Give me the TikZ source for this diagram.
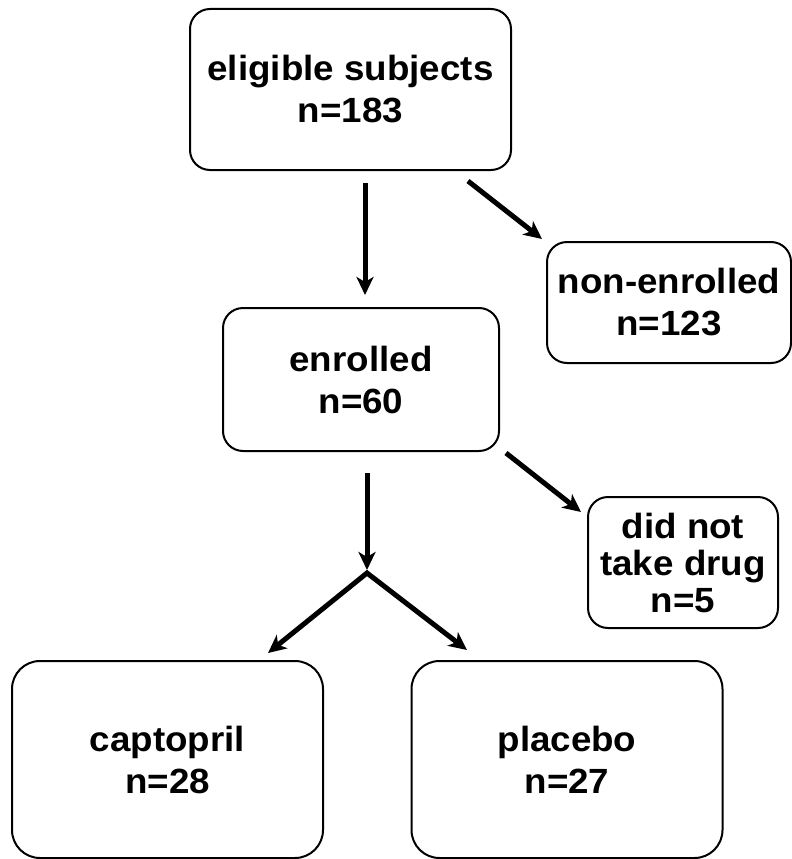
\documentclass[tikz,border=0pt]{standalone}
\usepackage{fontspec}
\setmainfont{Liberation Sans}[FakeStretch=1.05]
\usetikzlibrary{arrows.meta,
	positioning,
	calc}
\tikzstyle{box}=[draw, line width=2pt, rounded corners=20pt, align=center,
		inner sep=0pt, font=\fontsize{35}{42}\selectfont\bfseries]
\tikzstyle{bigbox}=[box, rounded corners=28pt]
\tikzstyle{arr}=[line width=5pt, -{Stealth[length=18pt,width=17pt,inset=5pt]}]

\begin{document}
\begin{tikzpicture}[x=1pt, y=-1pt]
            \useasboundingbox (0,0) rectangle (792,859);
            % boxes
            \node[box, minimum width=321pt, minimum height=161pt] (elig) at (350.5,89.5) {eligible subjects\\n=183};
            \node[box, minimum width=244pt, minimum height=121pt] (nonenr) at (669,302.5) {non-enrolled\\n=123};
            \node[box, minimum width=276pt, minimum height=143pt] (enr) at (361,379.5) {enrolled\\n=60};
            \node[box, minimum width=190pt, minimum height=131pt, font=\fontsize{35}{37}\selectfont\bfseries] (drug) at (683,562.5) {did not\\take drug\\n=5};
            \node[bigbox, minimum width=311pt, minimum height=197pt] (capt) at (167.5,759.5) {captopril\\n=28};
            \node[bigbox, minimum width=311pt, minimum height=197pt] (plac) at (567,759.5) {placebo\\n=27};
            \coordinate (split) at (367,573);
            % arrows
            \draw[arr] ([xshift=14.5pt,yshift=-12pt]elig.south) -- ([xshift=4pt,yshift=12pt]enr.north);
            \draw[arr] ([xshift=-44pt,yshift=-10pt]elig.south east) -- ([xshift=-4pt,yshift=2pt]nonenr.north west);
            \draw[arr] ([xshift=6pt,yshift=-21pt]enr.south) -- ([yshift=3pt]split);
            \draw[arr] ([xshift=6pt,yshift=-1pt]enr.south east) -- ([xshift=-6pt,yshift=-16pt]drug.north west);
            \draw[arr, {Stealth[length=18pt,width=17pt,inset=5pt]}-{Stealth[length=18pt,width=17pt,inset=5pt]}] ([xshift=100.5pt,yshift=7pt]capt.north) -- (split) -- ([xshift=-100pt,yshift=10pt]plac.north);
\end{tikzpicture}
\end{document}
